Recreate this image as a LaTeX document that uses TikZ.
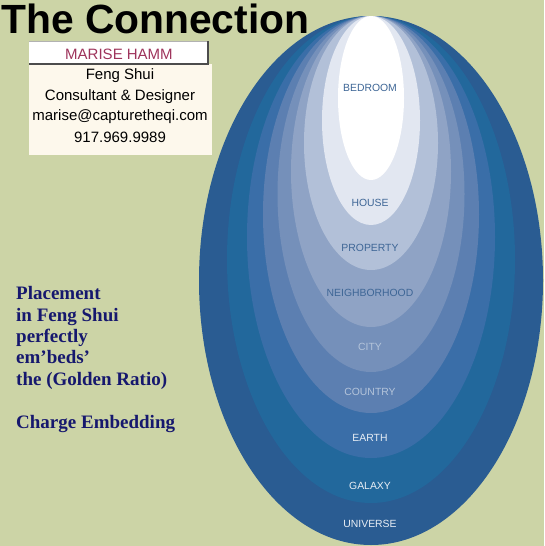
\documentclass[tikz,border=0pt]{standalone}
\usepackage{fontspec}
\setmainfont{Liberation Sans}
\newfontfamily\leftserif{Liberation Serif}
\definecolor{bgc}{RGB}{204,212,166}
\definecolor{lhouse}{RGB}{226,231,241}
\definecolor{lproperty}{RGB}{178,192,216}
\definecolor{lneigh}{RGB}{143,163,197}
\definecolor{lcity}{RGB}{117,144,186}
\definecolor{lcountry}{RGB}{92,127,177}
\definecolor{learth}{RGB}{58,110,168}
\definecolor{lgalaxy}{RGB}{34,104,156}
\definecolor{luniverse}{RGB}{42,92,146}
\definecolor{darklabel}{RGB}{62,102,150}
\definecolor{midlabel}{RGB}{180,196,218}
\definecolor{lightlabel}{RGB}{232,238,245}
\definecolor{namecol}{RGB}{158,52,92}
\definecolor{cream}{RGB}{253,248,236}
\definecolor{navytext}{RGB}{22,24,110}
\begin{document}
\begin{tikzpicture}[x=1pt,y=-1pt,
  lbl/.style={font=\fontsize{10.4}{12}\selectfont,inner sep=0pt,anchor=center},
  card/.style={font=\fontsize{15}{18}\selectfont,inner sep=0pt,anchor=center,text=black},
  lefttxt/.style={font=\leftserif\bfseries\fontsize{19}{21}\selectfont,inner sep=0pt,anchor=base west,text=navytext}]
\useasboundingbox (0,0) rectangle (544,546);
\fill[bgc] (0,0) rectangle (544,546);
% nested ellipses (top at y=16)
\fill[luniverse] (371,280.5) ellipse [x radius=172pt, y radius=264.5pt];
\fill[lgalaxy]   (371,259.5) ellipse [x radius=144pt, y radius=243.5pt];
\fill[learth]    (371,237)   ellipse [x radius=124pt, y radius=221pt];
\fill[lcountry]  (371,214.5) ellipse [x radius=108pt, y radius=198.5pt];
\fill[lcity]     (371,194)   ellipse [x radius=93.5pt, y radius=178pt];
\fill[lneigh]    (371,171.5) ellipse [x radius=80pt, y radius=155.5pt];
\fill[lproperty] (371,143)   ellipse [x radius=67pt, y radius=127pt];
\fill[lhouse]    (371,120.5) ellipse [x radius=49pt, y radius=104.5pt];
\fill[white]     (371,98)    ellipse [x radius=33pt, y radius=82pt];
% labels
\node[lbl,text=darklabel] (bedroom) at (370,88) {BEDROOM};
\node[lbl,text=darklabel] (house) at (370,203) {HOUSE};
\node[lbl,text=darklabel] (property) at (370,248) {PROPERTY};
\node[lbl,text=darklabel] (neigh) at (370,293) {NEIGHBORHOOD};
\node[lbl,text=midlabel] (city) at (370,347) {CITY};
\node[lbl,text=midlabel] (country) at (370,392) {COUNTRY};
\node[lbl,text=lightlabel] (earth) at (370,438) {EARTH};
\node[lbl,text=lightlabel] (galaxy) at (370,486) {GALAXY};
\node[lbl,text=lightlabel] (universe) at (370,524) {UNIVERSE};
% title
\node[inner sep=0pt,anchor=base west,font=\bfseries\fontsize{40.8}{44}\selectfont] (title) at (1,33) {The Connection};
% card
\fill[cream] (29,64) rectangle (212,155);
\fill[white] (29,41) rectangle (208,64);
\draw[gray!60,line width=0.5pt] (29,41) -- (208,41);
\draw[black!70,line width=1.2pt] (208,41) -- (208,64) -- (29,64);
\node[card,text=namecol] (name) at (119,54) {MARISE HAMM};
\node[card] (l1) at (120,76) {Feng Shui};
\node[card] (l2) at (120,97) {Consultant \& Designer};
\node[card] (l3) at (120,117) {marise@capturetheqi.com};
\node[card] (l4) at (120,137) {917.969.9989};
% left text
\node[lefttxt] (t1) at (16,299) {Placement};
\node[lefttxt] (t2) at (16,321) {in Feng Shui};
\node[lefttxt] (t3) at (16,342) {perfectly};
\node[lefttxt] (t4) at (16,363) {em’beds’};
\node[lefttxt] (t5) at (16,385) {the (Golden Ratio)};
\node[lefttxt] (t6) at (16,428) {Charge Embedding};
\end{tikzpicture}
\end{document}
